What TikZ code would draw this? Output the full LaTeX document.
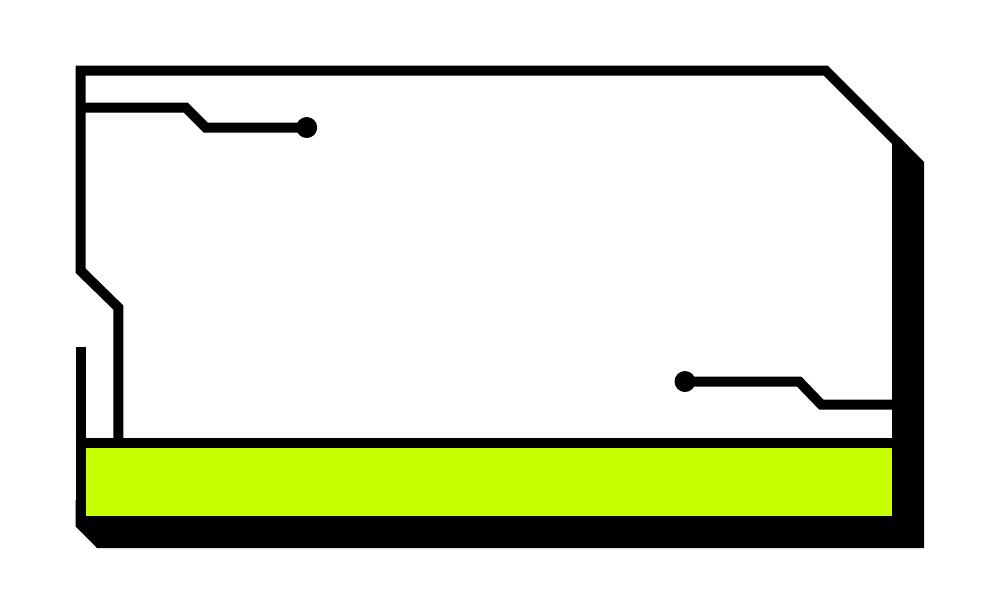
\documentclass[tikz,border=0pt]{standalone}
\definecolor{lime}{HTML}{C6FF00}
\tikzset{
  wire/.style={draw=black,line width=10pt,miter limit=10},
  pad/.style={circle,fill=black,inner sep=0pt,minimum size=21pt},
  plate/.style={rectangle,fill=lime,inner sep=0pt,minimum width=806.5pt,minimum height=67.7pt},
  shadow/.style={fill=black}
}
\begin{document}
\begin{tikzpicture}[x=1pt,y=-1pt]
\useasboundingbox (0,0) rectangle (1000,614);
% shadow body
\fill[shadow] (892,144) -- (900,138) -- (924,162) -- (924,548) -- (97,548) -- (75.7,526.5) -- (75.7,500) -- (892,500) -- cycle;
% lime strip
\node[plate] (strip) at (488.75,481.85) {};
% named points of the frame
\coordinate (stubtop) at (80.7,346.7);
\coordinate (stubend) at (80.7,520);
\coordinate (barL) at (75.7,442.85);
\coordinate (barR) at (900,442.85);
\coordinate (postB) at (118.3,440);
\coordinate (postT) at (118.3,307.5);
\coordinate (kink) at (80.7,270.8);
\coordinate (tl) at (80.7,70.7);
\coordinate (tr) at (825.8,70.7);
\coordinate (diag) at (905,149.9);
% frame
\draw[wire] (postB) -- (postT) -- (kink) -- (tl) -- (tr) -- (diag);
\draw[wire] (stubtop) -- (stubend);
\draw[wire,line width=10.3pt] (barL) -- (barR);
% traces
\node[pad] (padA) at (306.7,127.5) {};
\node[pad] (padB) at (685,381.5) {};
\coordinate (a0) at (80.7,107.5);
\coordinate (a1) at (185.6,107.5);
\coordinate (a2) at (205.6,127.5);
\coordinate (b1) at (799,381.5);
\coordinate (b2) at (821.4,404.7);
\coordinate (b3) at (900,404.7);
\draw[wire] (a0) -- (a1) -- (a2) -- (padA.center);
\draw[wire] (padB.center) -- (b1) -- (b2) -- (b3);
\end{tikzpicture}
\end{document}
